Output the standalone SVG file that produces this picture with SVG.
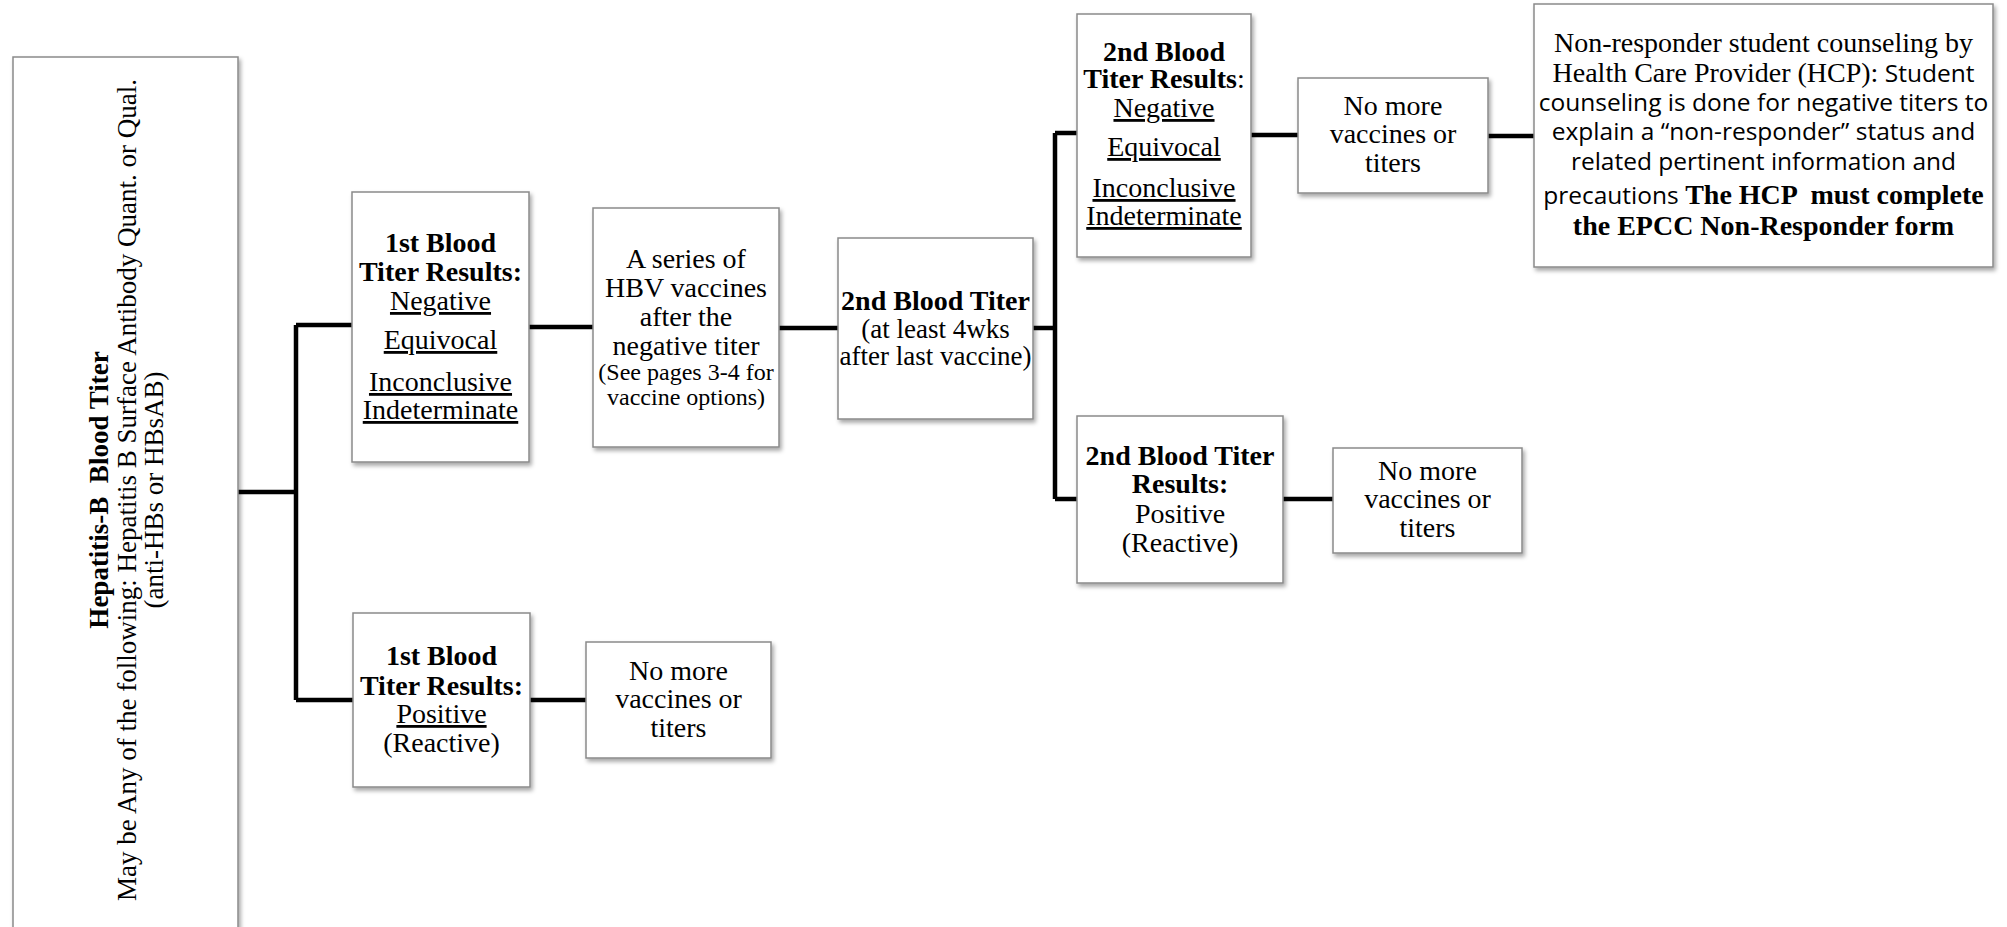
<svg xmlns="http://www.w3.org/2000/svg" width="2007" height="927" viewBox="0 0 2007 927">
<defs>
<filter id="sh" x="-10%" y="-10%" width="130%" height="130%">
<feDropShadow dx="2" dy="3" stdDeviation="2" flood-color="#000" flood-opacity="0.35"/>
</filter>
</defs>
<style>
.box{fill:#fff;stroke:#8a8a8a;stroke-width:1.5;filter:url(#sh)}
.t{font-family:"Liberation Serif","Times New Roman",serif;font-size:28px;fill:#000;text-anchor:middle}
.r{font-size:27px}
.b{font-weight:bold}
.u{text-decoration:underline}
.s{font-size:24px}
.sans{font-family:"Open Sans","Liberation Sans",sans-serif;font-size:24.5px}
.c{fill:none;stroke:#000;stroke-width:4.5}
</style>
<rect width="2007" height="927" fill="#fff"/>
<g id="connectors">
<path class="c" d="M238,492H296M296,325V700M296,325H352M296,700H353M529,327H593M779,328H838M1033,328H1055M1055,133V499M1055,133H1077M1055,499H1077M1251,135H1298M1488,136H1534M1283,499H1333M530,700H586"/>
</g>
<g id="start">
<rect class="box" x="13" y="57" width="225" height="900"/>
<text class="t r b" transform="translate(108,490) rotate(-90)" xml:space="preserve">Hepatitis-B  Blood Titer</text>
<text class="t r" transform="translate(136,490) rotate(-90)">May be Any of the following: Hepatitis B Surface Antibody Quant. or Qual.</text>
<text class="t r" transform="translate(163,490) rotate(-90)">(anti-HBs or HBsAB)</text>
</g>
<g id="first-negative">
<rect class="box" x="352" y="192" width="177" height="270"/>
<text class="t b" x="440.5" y="252">1st Blood</text>
<text class="t b" x="440.5" y="281">Titer Results:</text>
<text class="t u" x="440.5" y="310">Negative</text>
<text class="t u" x="440.5" y="349">Equivocal</text>
<text class="t u" x="440.5" y="391">Inconclusive</text>
<text class="t u" x="440.5" y="419">Indeterminate</text>
</g>
<g id="series">
<rect class="box" x="593" y="208" width="186" height="239"/>
<text class="t" x="686" y="268">A series of</text>
<text class="t" x="686" y="297">HBV vaccines</text>
<text class="t" x="686" y="326">after the</text>
<text class="t" x="686" y="355">negative titer</text>
<text class="t s" x="686" y="380">(See pages 3-4 for</text>
<text class="t s" x="686" y="405">vaccine options)</text>
</g>
<g id="second-titer">
<rect class="box" x="838" y="238" width="195" height="181"/>
<text class="t b" x="935.5" y="310">2nd Blood Titer</text>
<text class="t" x="935.5" y="338" style="font-size:27px">(at least 4wks</text>
<text class="t" x="935.5" y="365" style="font-size:27px">after last vaccine)</text>
</g>
<g id="second-negative">
<rect class="box" x="1077" y="14" width="174" height="243"/>
<text class="t b" x="1164" y="61">2nd Blood</text>
<text class="t" x="1164" y="88"><tspan class="b">Titer Results</tspan>:</text>
<text class="t u" x="1164" y="117">Negative</text>
<text class="t u" x="1164" y="156">Equivocal</text>
<text class="t u" x="1164" y="197">Inconclusive</text>
<text class="t u" x="1164" y="225">Indeterminate</text>
</g>
<g id="no-more-top">
<rect class="box" x="1298" y="78" width="190" height="115"/>
<text class="t" x="1393" y="115">No more</text>
<text class="t" x="1393" y="143">vaccines or</text>
<text class="t" x="1393" y="172">titers</text>
</g>
<g id="non-responder">
<rect class="box" x="1534" y="4" width="459" height="263"/>
<text class="t" x="1763.5" y="52">Non-responder student counseling by</text>
<text class="t" x="1763.5" y="82">Health Care Provider (HCP):<tspan class="sans"> Student</tspan></text>
<text class="t sans" x="1763.5" y="111">counseling is done for negative titers to</text>
<text class="t sans" x="1763.5" y="140">explain a “non-responder” status and</text>
<text class="t sans" x="1763.5" y="170">related pertinent information and</text>
<text class="t" x="1763.5" y="204" xml:space="preserve"><tspan class="sans">precautions</tspan><tspan class="b"> The HCP  must complete</tspan></text>
<text class="t b" x="1763.5" y="235">the EPCC Non-Responder form</text>
</g>
<g id="second-positive">
<rect class="box" x="1077" y="416" width="206" height="167"/>
<text class="t b" x="1180" y="465">2nd Blood Titer</text>
<text class="t b" x="1180" y="493">Results:</text>
<text class="t" x="1180" y="523">Positive</text>
<text class="t" x="1180" y="552">(Reactive)</text>
</g>
<g id="no-more-mid">
<rect class="box" x="1333" y="448" width="189" height="105"/>
<text class="t" x="1427.5" y="480">No more</text>
<text class="t" x="1427.5" y="508">vaccines or</text>
<text class="t" x="1427.5" y="537">titers</text>
</g>
<g id="first-positive">
<rect class="box" x="353" y="613" width="177" height="174"/>
<text class="t b" x="441.5" y="665">1st Blood</text>
<text class="t b" x="441.5" y="695">Titer Results:</text>
<text class="t u" x="441.5" y="723">Positive</text>
<text class="t" x="441.5" y="752">(Reactive)</text>
</g>
<g id="no-more-bottom">
<rect class="box" x="586" y="642" width="185" height="116"/>
<text class="t" x="678.5" y="680">No more</text>
<text class="t" x="678.5" y="708">vaccines or</text>
<text class="t" x="678.5" y="737">titers</text>
</g>
</svg>
